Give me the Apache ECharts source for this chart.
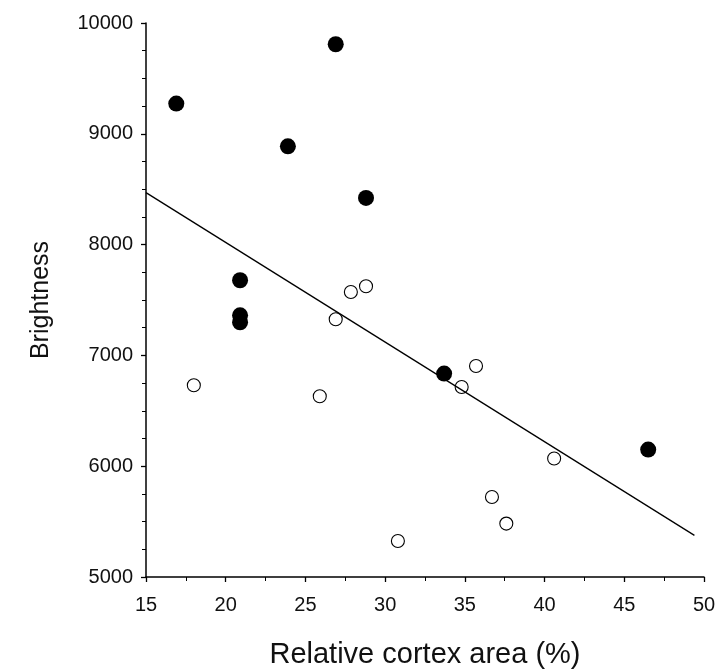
<!DOCTYPE html>
<html>
<head>
<meta charset="utf-8">
<script src="https://cdn.jsdelivr.net/npm/echarts@6/dist/echarts.min.js"></script>
<style>
html,body{margin:0;padding:0;background:#fff;}
#chart{width:718px;height:670px;}
</style>
</head>
<body>
<div id="chart"></div>
<script>
// Filled (black) points
var filledX = [16.9, 26.9, 23.9, 28.8, 20.9, 20.9, 20.9, 33.7, 46.5];
var filledY = [9273, 9808, 8887, 8421, 7678, 7362, 7299, 6836, 6150];
// Open (white) points
var openX = [18.0, 25.9, 26.9, 27.85, 28.8, 34.8, 35.7, 40.6, 36.7, 37.6, 30.8];
var openY = [6730, 6631, 7326, 7572, 7624, 6715, 6904, 6069, 5722, 5482, 5325];
// Regression line end points
var lineX = [15, 49.4];
var lineY = [8469, 5376];
// Axes
var xTicks = [15, 20, 25, 30, 35, 40, 45, 50];
var yTicks = [5000, 6000, 7000, 8000, 9000, 10000];
var xTitle = 'Relative cortex area (%)';
var yTitle = 'Brightness';

function zip(a, b) { return a.map(function (v, i) { return [v, b[i]]; }); }

var font = '"Liberation Sans", Arial, sans-serif';
var chart = echarts.init(document.getElementById('chart'), null, {renderer: 'canvas'});
chart.setOption({
  animation: false,
  backgroundColor: '#fff',
  grid: {left: 146, right: 14, top: 23, bottom: 93, containLabel: false, outerBoundsMode: 'none'},
  xAxis: {
    type: 'value',
    min: xTicks[0], max: xTicks[xTicks.length - 1], interval: 5,
    name: xTitle, nameLocation: 'middle', nameGap: 63,
    nameTextStyle: {fontFamily: font, fontSize: 29, color: '#111'},
    axisLine: {show: true, onZero: false, lineStyle: {color: '#000', width: 1.5}},
    axisTick: {show: true, inside: false, length: 5, lineStyle: {color: '#000', width: 1.3}},
    minorTick: {show: true, splitNumber: 2, length: 4, lineStyle: {color: '#000', width: 1}},
    splitLine: {show: false},
    axisLabel: {margin: 18, fontFamily: font, fontSize: 20, color: '#111',
      formatter: function (v) { return String(v); }}
  },
  yAxis: {
    type: 'value',
    min: yTicks[0], max: yTicks[yTicks.length - 1], interval: 1000,
    name: yTitle, nameLocation: 'middle', nameGap: 92, nameRotate: 90,
    nameTextStyle: {fontFamily: font, fontSize: 25, color: '#111'},
    axisLine: {show: true, onZero: false, lineStyle: {color: '#000', width: 1.5}},
    axisTick: {show: true, inside: false, length: 5, lineStyle: {color: '#000', width: 1.3}},
    minorTick: {show: true, splitNumber: 4, length: 4, lineStyle: {color: '#000', width: 1}},
    splitLine: {show: false},
    axisLabel: {margin: 13, fontFamily: font, fontSize: 20, color: '#111',
      formatter: function (v) { return String(v); }}
  },
  series: [
    {
      type: 'line', data: zip(lineX, lineY), showSymbol: false, symbol: 'none',
      lineStyle: {color: '#000', width: 1.3}, z: 1, silent: true
    },
    {
      type: 'scatter', data: zip(openX, openY), symbol: 'circle', symbolSize: 13,
      itemStyle: {color: 'rgba(255,255,255,0)', borderColor: '#000', borderWidth: 1.1, opacity: 1}, z: 2
    },
    {
      type: 'scatter', data: zip(filledX, filledY), symbol: 'circle', symbolSize: 16,
      itemStyle: {color: '#000', opacity: 1}, z: 3
    }
  ]
});
</script>
</body>
</html>
